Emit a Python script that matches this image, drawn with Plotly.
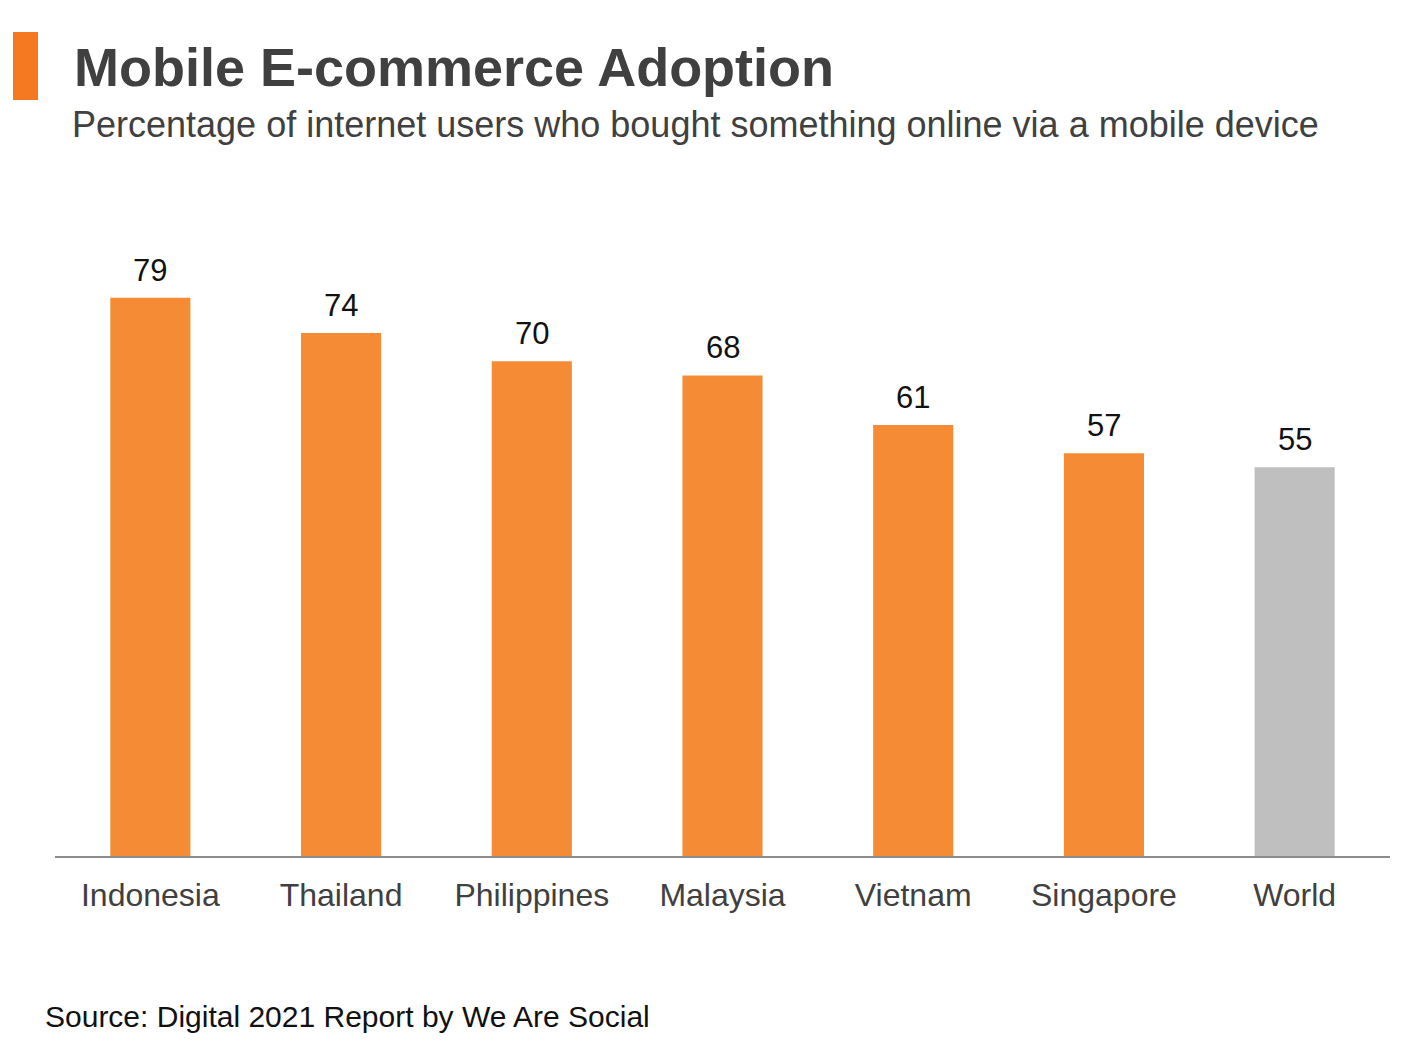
import plotly.graph_objects as go

countries = ["Indonesia", "Thailand", "Philippines", "Malaysia", "Vietnam", "Singapore", "World"]
values = [79, 74, 70, 68, 61, 57, 55]
bar_colors = ["#F58B34"] * 6 + ["#BFBFBF"]

W, H = 1423, 1056
L, R, T, B = 55, 33, 220, 200
pw, ph = W - L - R, H - T - B

def px(x):
    return (x - L) / pw

def py(y):
    return (H - B - y) / ph

FONT = "Liberation Sans, Arial, sans-serif"

fig = go.Figure(go.Bar(
    x=countries, y=values,
    marker=dict(color=bar_colors, line=dict(width=0)),
    cliponaxis=False,
))

for c, v in zip(countries, values):
    fig.add_annotation(x=c, y=v, xref="x", yref="y", text=str(v),
                       showarrow=False, yanchor="bottom", yshift=8,
                       font=dict(family=FONT, size=31, color="#111111"))

fig.update_layout(
    width=W, height=H,
    margin=dict(l=L, r=R, t=T, b=B),
    paper_bgcolor="white", plot_bgcolor="white",
    bargap=0.58,
    showlegend=False,
    font=dict(family=FONT),
    xaxis=dict(
        showline=True, linecolor="#8C8C8C", linewidth=2,
        showgrid=False, zeroline=False,
        ticks="outside", ticklen=10, tickcolor="rgba(0,0,0,0)",
        tickfont=dict(size=32, color="#404040"),
    ),
    yaxis=dict(range=[0, 90], visible=False, showgrid=False),
)

fig.add_shape(type="rect", xref="paper", yref="paper",
              x0=px(13), x1=px(38), y0=py(100), y1=py(32),
              fillcolor="#F47920", line=dict(width=0))

fig.add_annotation(xref="paper", yref="paper", x=px(72), y=py(67),
                   xanchor="left", yanchor="middle", showarrow=False,
                   text="<b>Mobile E-commerce Adoption</b>",
                   font=dict(size=54, color="#404040"))
fig.add_annotation(xref="paper", yref="paper", x=px(70), y=py(125),
                   xanchor="left", yanchor="middle", showarrow=False,
                   text="Percentage of internet users who bought something online via a mobile device",
                   font=dict(size=36, color="#404040"))
fig.add_annotation(xref="paper", yref="paper", x=px(43), y=py(1016),
                   xanchor="left", yanchor="middle", showarrow=False,
                   text="Source: Digital 2021 Report by We Are Social",
                   font=dict(size=30, color="#111111"))

fig.write_html("out.html")
